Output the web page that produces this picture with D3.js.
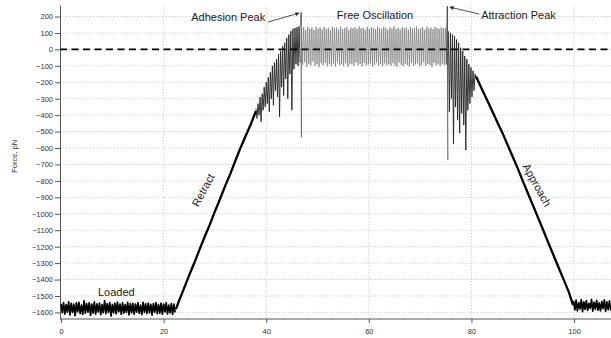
<!DOCTYPE html>
<html>
<head>
<meta charset="utf-8">
<script src="https://cdn.jsdelivr.net/npm/d3@7"></script>
<style>
  html, body { margin: 0; padding: 0; background: #fff; }
  svg { display: block; font-family: "Liberation Sans", Arial, sans-serif; }
</style>
</head>
<body>
<div id="chart"></div>
<script>
// Force trace, split into its parts.
// Noisy parts are sampled evenly: start time, step, values (pN).
const loadedStart = 0, loadedStep = 0.25;
const loadedForce = [
  -1548,-1602,-1540,-1610,-1552,-1598,-1536,-1615,-1545,-1600,
  -1550,-1620,-1542,-1596,-1538,-1608,-1555,-1612,-1530,-1604,
  -1547,-1598,-1541,-1618,-1550,-1605,-1535,-1610,-1548,-1597,
  -1543,-1614,-1552,-1602,-1528,-1608,-1546,-1600,-1540,-1622,
  -1551,-1603,-1544,-1609,-1537,-1596,-1549,-1612,-1542,-1605,
  -1553,-1599,-1539,-1615,-1547,-1603,-1545,-1610,-1550,-1598,
  -1541,-1606,-1556,-1613,-1538,-1600,-1548,-1608,-1543,-1602,
  -1551,-1617,-1546,-1599,-1540,-1607,-1553,-1604,-1544,-1611,
  -1549,-1597,-1542,-1609,-1555,-1603,-1547,-1612,-1550,-1600
];

const retractTime  = [22.4, 23, 24, 25, 26, 27, 28, 29, 30, 31, 32, 33, 34, 35, 36, 37, 38];
const retractForce = [-1580, -1530, -1452, -1372, -1298, -1218, -1140, -1066, -985, -910, -830, -757, -676, -598, -525, -455, -375];

const snapStart = 38.0, snapStep = 0.2;
const snapForce = [
  -360, -420, -330, -400, -290, -440, -270, -370, -230, -350,
  -200, -330, -170, -380, -140, -300, -100, -340, -80, -250,
  -60, -290, -30, -410, -10, -230, 20, -280, 40, -180,
  70, -300, 90, -150, 110, -370, 125, -120, 130, -90,
  135, -100, 140, -80
];

const adhesionTime  = [46.75, 46.8, 46.85];
const adhesionForce = [140, 225, -535];

const freeStart = 46.9, freeStep = 0.2;
const freeForce = [
  128,-92, 135,-80, 120,-105, 138,-88, 125,-98, 132,-75, 118,-100, 136,-90,
  127,-108, 133,-85, 122,-96, 139,-82, 126,-102, 131,-90, 117,-99, 137,-86,
  129,-104, 134,-78, 121,-95, 138,-91, 124,-100, 130,-84, 136,-106, 119,-93,
  133,-87, 127,-101, 135,-79, 123,-97, 140,-89, 128,-103, 132,-83, 120,-98,
  137,-92, 126,-86, 134,-105, 129,-94, 122,-81, 138,-99, 131,-88, 125,-102,
  136,-85, 130,-96, 118,-90, 133,-100, 127,-84, 139,-97, 124,-106, 131,-80,
  121,-93, 137,-101, 128,-87, 134,-95, 119,-104, 136,-82, 126,-99, 132,-91,
  140,-85, 123,-103, 129,-96, 135,-78, 120,-100, 138,-89, 127,-94, 133,-107,
  122,-83, 136,-98, 130,-90, 125,-102, 134,-86, 128,-95, 131,-92
];

const attractionTime  = [75.1, 75.3, 75.4];
const attractionForce = [-92, 263, -673];

const jumpStart = 75.5, jumpStep = 0.2;
const jumpForce = [
  110, -380, 100, -300, 90, -575, 80, -350, 60, -430,
  40, -510, 10, -390, -10, -460, -40, -612, -60, -370,
  -90, -330, -110, -290, -130, -250, -150, -180
];

const approachTime  = [80.9, 82, 83, 84, 85, 86, 87, 88, 89, 90, 91, 92, 93, 94, 95, 96, 97, 98, 99, 99.8];
const approachForce = [-165, -240, -305, -372, -440, -505, -578, -650, -722, -800, -875, -950, -1025, -1100, -1178, -1252, -1328, -1402, -1478, -1555];

const restStart = 99.9, restStep = 0.25;
const restForce = [
  -1530,-1585,-1525,-1590,-1540,-1578,-1522,-1595,-1535,-1582,
  -1528,-1588,-1545,-1575,-1520,-1592,-1538,-1580,-1526,-1586,
  -1542,-1590,-1532,-1577,-1524,-1594,-1536,-1583,-1530,-1588
];

const xTicks = [0, 20, 40, 60, 80, 100];
const yTicks = d3.range(-1600, 201, 100);

const width = 611, height = 338;
const margin = { top: 5, right: 0, bottom: 19, left: 60 };

const x = d3.scaleLinear().domain([0, 107.2]).range([margin.left + 1, width]);
const y = d3.scaleLinear().domain([-1640, 270]).range([height - margin.bottom, margin.top]);

const svg = d3.select("#chart").append("svg")
  .attr("width", width)
  .attr("height", height)
  .attr("viewBox", [0, 0, width, height]);

const defs = svg.append("defs");
defs.append("clipPath").attr("id", "plot")
  .append("rect")
  .attr("x", margin.left).attr("y", 0)
  .attr("width", width - margin.left).attr("height", height - margin.bottom);

defs.append("marker")
  .attr("id", "arrow")
  .attr("viewBox", "0 0 10 10")
  .attr("refX", 9).attr("refY", 5)
  .attr("markerWidth", 7).attr("markerHeight", 5)
  .attr("orient", "auto")
  .append("path")
  .attr("d", "M0,0L10,5L0,10z")
  .attr("fill", "#222");

// Grid
const grid = svg.append("g").attr("stroke", "#c4c4c4").attr("stroke-width", 0.7)
  .attr("stroke-dasharray", "1.5,1.5");
grid.selectAll("line.h").data(yTicks).join("line")
  .attr("class", "h")
  .attr("x1", margin.left).attr("x2", width)
  .attr("y1", d => y(d)).attr("y2", d => y(d));
grid.selectAll("line.v").data(xTicks.filter(d => d > 0)).join("line")
  .attr("class", "v")
  .attr("x1", d => x(d)).attr("x2", d => x(d))
  .attr("y1", margin.top).attr("y2", y.range()[0]);

// Axes
const yAxis = svg.append("g")
  .attr("transform", `translate(${margin.left},0)`)
  .call(d3.axisLeft(y).tickValues(yTicks).tickFormat(d3.format("d"))
    .tickSize(5).tickSizeOuter(0).tickPadding(2));
const xAxis = svg.append("g")
  .attr("transform", `translate(0,${y.range()[0]})`)
  .call(d3.axisBottom(x).tickValues(xTicks).tickFormat(d3.format("d"))
    .tickSize(4).tickSizeOuter(0).tickPadding(6));
xAxis.select(".domain").attr("d", `M${margin.left},0H${width}`);
[xAxis, yAxis].forEach(a => {
  a.select(".domain").attr("stroke", "#555");
  a.selectAll(".tick line").attr("stroke", "#555");
  a.selectAll(".tick text").attr("fill", "#333").style("font-size", "7.5px");
});

svg.append("text")
  .attr("transform", `translate(14,${(y(-600) + y(-700)) / 2}) rotate(-90)`)
  .attr("text-anchor", "middle")
  .attr("dominant-baseline", "central")
  .attr("fill", "#333")
  .style("font-size", "7.5px")
  .text("Force, pN");

// Signal
const evenly = (start, step, vals) => vals.map((v, i) => [start + i * step, v]);
const paired = (ts, vals) => ts.map((t, i) => [t, vals[i]]);
const line = d3.line().x(d => x(d[0])).y(d => y(d[1]));
const plot = svg.append("g").attr("clip-path", "url(#plot)").attr("fill", "none");

const parts = [
  { pts: evenly(freeStart, freeStep, freeForce), color: "#666", w: 0.6 },
  { pts: evenly(snapStart, snapStep, snapForce), color: "#222", w: 0.9 },
  { pts: evenly(jumpStart, jumpStep, jumpForce), color: "#222", w: 0.9 },
  { pts: paired(adhesionTime, adhesionForce), color: "#444", w: 0.9 },
  { pts: paired(attractionTime, attractionForce), color: "#444", w: 0.9 },
  { pts: evenly(loadedStart, loadedStep, loadedForce), color: "#000", w: 1.7 },
  { pts: paired(retractTime, retractForce), color: "#000", w: 2.3 },
  { pts: paired(approachTime, approachForce), color: "#000", w: 2.3 },
  { pts: evenly(restStart, restStep, restForce), color: "#000", w: 1.7 }
];
plot.selectAll("path.part").data(parts).join("path")
  .attr("class", "part")
  .attr("d", d => line(d.pts))
  .attr("stroke", d => d.color)
  .attr("stroke-width", d => d.w)
  .attr("stroke-linejoin", "round");

// Zero line
svg.append("line")
  .attr("x1", margin.left).attr("x2", width)
  .attr("y1", y(0)).attr("y2", y(0))
  .attr("stroke", "#000").attr("stroke-width", 1.8)
  .attr("stroke-dasharray", "7,4.5");

// Annotations
const notes = svg.append("g").attr("fill", "#222").style("font-size", "11px");
notes.append("text").attr("x", x(39.8)).attr("y", y(196))
  .attr("text-anchor", "end").attr("dominant-baseline", "central").text("Adhesion Peak");
notes.append("text").attr("x", x(61.2)).attr("y", y(209))
  .attr("text-anchor", "middle").attr("dominant-baseline", "central").text("Free Oscillation");
notes.append("text").attr("x", x(81.9)).attr("y", y(209))
  .attr("text-anchor", "start").attr("dominant-baseline", "central").text("Attraction Peak");
notes.append("text").attr("x", x(7.2)).attr("y", y(-1475))
  .attr("dominant-baseline", "central").text("Loaded");
notes.append("text")
  .attr("transform", `translate(${x(27.7)},${y(-855)}) rotate(-62)`)
  .attr("text-anchor", "middle").attr("dominant-baseline", "central").text("Retract");
notes.append("text")
  .attr("transform", `translate(${x(92.8)},${y(-825)}) rotate(61)`)
  .attr("text-anchor", "middle").attr("dominant-baseline", "central").text("Approach");

const arrows = [
  { from: [40.35, 166], to: [46.4, 221] },
  { from: [81.5, 215], to: [75.8, 257] }
];
svg.selectAll("line.arrow").data(arrows).join("line")
  .attr("class", "arrow")
  .attr("x1", d => x(d.from[0])).attr("y1", d => y(d.from[1]))
  .attr("x2", d => x(d.to[0])).attr("y2", d => y(d.to[1]))
  .attr("stroke", "#222").attr("stroke-width", 0.8)
  .attr("marker-end", "url(#arrow)");
</script>
</body>
</html>
